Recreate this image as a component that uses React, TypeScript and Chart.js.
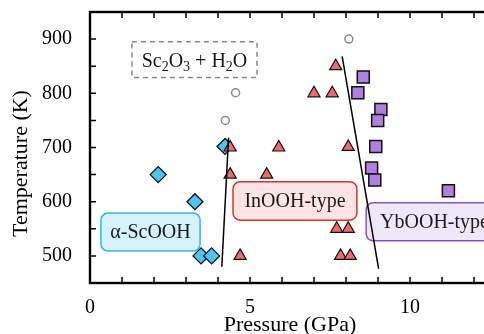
import { useEffect, useRef } from "react";
import { Chart, registerables } from "chart.js";

Chart.register(...registerables);

// ---- data ----
const alphaP = [2.13, 3.28, 3.47, 3.8, 4.22];
const alphaT = [650, 600, 500, 500, 702];

const inoohP = [4.38, 4.38, 4.69, 5.52, 5.9, 7.0, 7.57, 7.68, 8.07, 7.71, 8.07, 7.83, 8.13];
const inoohT = [700, 650, 500, 650, 700, 800, 800, 850, 701, 550, 550, 500, 500];

const ybP = [8.54, 8.37, 9.09, 8.99, 8.93, 8.8, 8.9, 11.2];
const ybT = [830, 801, 770, 750, 702, 662, 640, 620];

const decompP = [4.23, 4.55, 8.09];
const decompT = [750, 801, 900];

const boundary1P = [4.12, 4.33];
const boundary1T = [480, 718];
const boundary2P = [7.88, 9.02];
const boundary2T = [868, 476];

const xTicks = [0, 5, 10];
const yTicks = [500, 600, 700, 800, 900];
const xRange = [0, 12.5];
const yRange = [450, 950];
const xMinorStep = 1;
const yMinorStep = 50;

const X_TITLE = "Pressure (GPa)";
const Y_TITLE = "Temperature (K)";

const phaseNames = ["α-ScOOH", "InOOH-type", "YbOOH-type"];
const phaseBoxP = [
  [0.34, 3.44],
  [4.47, 8.34],
  [8.63, 12.9],
];
const phaseBoxT = [
  [509, 579],
  [566, 637],
  [528, 598],
];
const phaseFill = ["#d6f2fb", "#fde4e4", "#eee7f7"];
const phaseStroke = ["#35b6e6", "#d8322f", "#8c50c4"];

const decompBoxP = [1.31, 5.22];
const decompBoxT = [829, 895];
// [text, isSubscript]
const decompLabel: [string, boolean][] = [
  ["Sc", false],
  ["2", true],
  ["O", false],
  ["3", true],
  [" + H", false],
  ["2", true],
  ["O", false],
];

const FONT = '"Liberation Serif", "Times New Roman", serif';

const pts = (xs: number[], ys: number[]) => xs.map((x, i) => ({ x, y: ys[i] }));

const framePlugin = {
  id: "frameAndLabels",
  beforeDatasetsDraw(chart: any) {
    const { ctx } = chart;
    const xs = chart.scales.x;
    const ys = chart.scales.y;
    ctx.save();
    // phase boxes
    phaseNames.forEach((name, i) => {
      const x0 = xs.getPixelForValue(phaseBoxP[i][0]);
      const x1 = xs.getPixelForValue(phaseBoxP[i][1]);
      const y0 = ys.getPixelForValue(phaseBoxT[i][1]);
      const y1 = ys.getPixelForValue(phaseBoxT[i][0]);
      ctx.beginPath();
      ctx.roundRect(x0, y0, x1 - x0, y1 - y0, 7);
      ctx.fillStyle = phaseFill[i];
      ctx.fill();
      ctx.lineWidth = 1.5;
      ctx.strokeStyle = phaseStroke[i];
      ctx.stroke();
      ctx.fillStyle = "#1a1a1a";
      ctx.font = `20px ${FONT}`;
      ctx.textAlign = "center";
      ctx.textBaseline = "middle";
      ctx.fillText(name, (x0 + x1) / 2, (y0 + y1) / 2 + 1);
    });
    // decomposition box (dashed)
    const dx0 = xs.getPixelForValue(decompBoxP[0]);
    const dx1 = xs.getPixelForValue(decompBoxP[1]);
    const dy0 = ys.getPixelForValue(decompBoxT[1]);
    const dy1 = ys.getPixelForValue(decompBoxT[0]);
    ctx.beginPath();
    ctx.setLineDash([5, 4]);
    ctx.lineWidth = 1.5;
    ctx.strokeStyle = "#888";
    ctx.rect(dx0, dy0, dx1 - dx0, dy1 - dy0);
    ctx.stroke();
    ctx.setLineDash([]);
    const mainFont = `20px ${FONT}`;
    const subFont = `14px ${FONT}`;
    let total = 0;
    decompLabel.forEach(([t, sub]) => {
      ctx.font = sub ? subFont : mainFont;
      total += ctx.measureText(t).width;
    });
    let cx = (dx0 + dx1) / 2 - total / 2;
    const baseY = (dy0 + dy1) / 2 + 7;
    ctx.textAlign = "left";
    ctx.textBaseline = "alphabetic";
    ctx.fillStyle = "#1a1a1a";
    decompLabel.forEach(([t, sub]) => {
      ctx.font = sub ? subFont : mainFont;
      ctx.fillText(t, cx, sub ? baseY + 4 : baseY);
      cx += ctx.measureText(t).width;
    });
    ctx.restore();
  },
  afterDatasetsDraw(chart: any) {
    const { ctx, chartArea } = chart;
    const { left, right, top, bottom } = chartArea;
    const xs = chart.scales.x;
    const ys = chart.scales.y;
    ctx.save();
    ctx.strokeStyle = "#000";
    ctx.lineWidth = 1.5;
    const tl = 6;
    ctx.beginPath();
    for (let v = xRange[0]; v <= xRange[1] + 1e-9; v += xMinorStep) {
      const px = xs.getPixelForValue(v);
      ctx.moveTo(px, bottom);
      ctx.lineTo(px, bottom - tl);
      ctx.moveTo(px, top);
      ctx.lineTo(px, top + tl);
    }
    for (let v = yRange[0]; v <= yRange[1] + 1e-9; v += yMinorStep) {
      const py = ys.getPixelForValue(v);
      ctx.moveTo(left, py);
      ctx.lineTo(left + tl, py);
      ctx.moveTo(right, py);
      ctx.lineTo(right - tl, py);
    }
    ctx.stroke();
    ctx.lineWidth = 2.4;
    ctx.strokeRect(left, top, right - left, bottom - top);
    ctx.restore();
  },
  afterDraw(chart: any) {
    const { ctx, chartArea } = chart;
    ctx.save();
    ctx.translate(21, (chartArea.top + chartArea.bottom) / 2 + 16);
    ctx.rotate(-Math.PI / 2);
    ctx.font = `22px ${FONT}`;
    ctx.fillStyle = "#000";
    ctx.textAlign = "center";
    ctx.textBaseline = "middle";
    ctx.fillText(Y_TITLE, 0, 0);
    ctx.restore();
  },
};

export default function App() {
  const ref = useRef<HTMLCanvasElement>(null);

  useEffect(() => {
    if (!ref.current) return;
    const chart = new Chart(ref.current, {
      type: "scatter",
      data: {
        datasets: [
          {
            data: pts(boundary1P, boundary1T),
            showLine: true,
            borderColor: "#000",
            borderWidth: 1.5,
            pointRadius: 0,
          },
          {
            data: pts(boundary2P, boundary2T),
            showLine: true,
            borderColor: "#000",
            borderWidth: 1.5,
            pointRadius: 0,
          },
          {
            data: pts(inoohP, inoohT),
            pointStyle: "triangle",
            pointRadius: 7,
            backgroundColor: "#f26b6b",
            borderColor: "#111",
            borderWidth: 1.2,
          },
          {
            data: pts(alphaP, alphaT),
            pointStyle: "rectRot",
            pointRadius: 8,
            backgroundColor: "#4fc4f2",
            borderColor: "#111",
            borderWidth: 1.3,
          },
          {
            data: pts(ybP, ybT),
            pointStyle: "rect",
            pointRadius: 8.5,
            backgroundColor: "#b07fe0",
            borderColor: "#111",
            borderWidth: 1.5,
          },
          {
            data: pts(decompP, decompT),
            pointStyle: "circle",
            pointRadius: 4,
            backgroundColor: "#fff",
            borderColor: "#8c8c8c",
            borderWidth: 1.5,
          },
        ],
      },
      options: {
        responsive: false,
        animation: false,
        devicePixelRatio: 1,
        layout: { padding: { top: 12, right: 10, left: 0, bottom: 0 } },
        plugins: { legend: { display: false }, tooltip: { enabled: false } },
        scales: {
          x: {
            type: "linear",
            min: xRange[0],
            max: xRange[1],
            afterBuildTicks: (s: any) => {
              s.ticks = xTicks.map((v) => ({ value: v }));
            },
            afterFit: (s: any) => {
              s.height = 67;
              s.paddingLeft = 0;
              s.paddingRight = 0;
            },
            grid: { display: false, drawTicks: false },
            border: { display: false },
            ticks: {
              padding: 13,
              color: "#000",
              font: { family: FONT, size: 20 },
              maxRotation: 0,
              autoSkip: false,
            },
            title: {
              display: true,
              text: X_TITLE,
              color: "#000",
              font: { family: FONT, size: 22, lineHeight: 1 },
              padding: { top: 0, bottom: 14 },
            },
          },
          y: {
            type: "linear",
            min: yRange[0],
            max: yRange[1],
            afterBuildTicks: (s: any) => {
              s.ticks = yTicks.map((v) => ({ value: v }));
            },
            afterFit: (s: any) => {
              s.width = 90;
              s.paddingTop = 0;
              s.paddingBottom = 0;
            },
            grid: { display: false, drawTicks: false },
            border: { display: false },
            ticks: {
              padding: 18,
              color: "#000",
              font: { family: FONT, size: 20 },
              autoSkip: false,
            },
          },
        },
      },
      plugins: [framePlugin],
    } as any);
    return () => chart.destroy();
  }, []);

  return (
    <div
      style={{
        position: "fixed",
        left: 0,
        top: 0,
        width: 484,
        height: 334,
        overflow: "hidden",
        background: "#fff",
      }}
    >
      <canvas ref={ref} width={500} height={350} style={{ display: "block" }} />
    </div>
  );
}
